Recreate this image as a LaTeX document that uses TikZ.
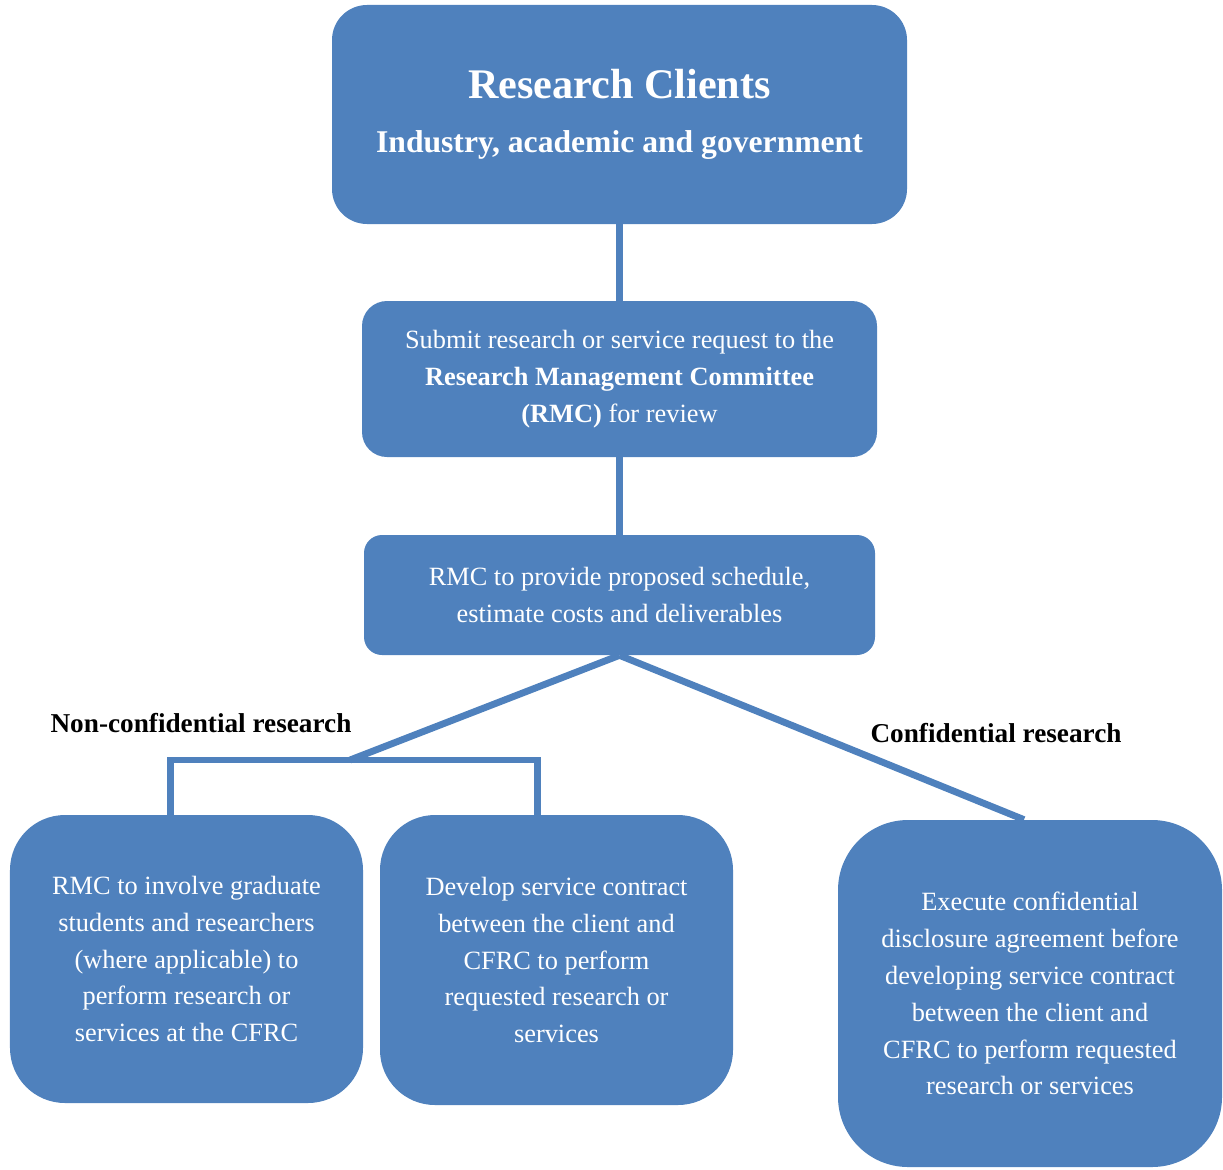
\documentclass[tikz,border=0pt]{standalone}
\usepackage{fontspec}
\setmainfont{Liberation Serif}
\definecolor{boxblue}{HTML}{4F81BD}
\pgfdeclarelayer{bg}
\pgfsetlayers{bg,main}

\begin{document}
\begin{tikzpicture}
        \tikzstyle{every node}=[align=center,font=\fontsize{15}{21}\selectfont]
        \tikzstyle{box}=[fill=boxblue,text=white,inner sep=0pt]
        \tikzstyle{link}=[draw=boxblue,line width=3.9pt]
        \useasboundingbox (0,0) rectangle (24.46,-23.38);

        % research clients
        \node[box,minimum width=11.5cm,minimum height=4.38cm,rounded corners=0.7cm] (clients) at (12.39,-2.29)
            {{\fontsize{24}{28}\selectfont\bfseries Research Clients}\\[9.5pt]
             {\fontsize{18}{22}\selectfont\bfseries Industry, academic and government}};

        % request to the committee
        \node[box,minimum width=10.3cm,minimum height=3.12cm,rounded corners=0.5cm] (request) at (12.39,-7.58)
            {Submit research or service request to the\\ \textbf{Research Management Committee}\\ \textbf{(RMC)} for review};
        \draw[link] (clients) -- (request);

        % schedule and costs
        \node[box,minimum width=10.22cm,minimum height=2.4cm,rounded corners=0.36cm] (schedule) at (12.39,-11.9)
            {RMC to provide proposed schedule,\\estimate costs and deliverables};

        % non-confidential research
        \node[font=\fontsize{15.5}{19}\selectfont\bfseries] (nonconflabel) at (4.02,-14.46) {Non-confidential research};
        \node[box,minimum width=7.06cm,minimum height=5.76cm,rounded corners=1.1cm] (involve) at (3.73,-19.18)
            {RMC to involve graduate\\students and researchers\\(where applicable) to\\perform research or\\services at the CFRC};
        \node[box,minimum width=7.06cm,minimum height=5.8cm,rounded corners=1.1cm] (contract) at (11.13,-19.2)
            {Develop service contract\\between the client and\\CFRC to perform\\requested research or\\services};
        \coordinate (split) at (7.0,-15.2);
        \coordinate (barleft) at (3.41,-15.2);
        \coordinate (barright) at (10.75,-15.2);

        % confidential research
        \node[font=\fontsize{15.5}{19}\selectfont\bfseries] (conflabel) at (19.92,-14.66) {Confidential research};
        \node[box,minimum width=7.68cm,minimum height=6.94cm,rounded corners=1.4cm] (disclosure) at (20.6,-19.87)
            {Execute confidential\\disclosure agreement before\\developing service contract\\between the client and\\CFRC to perform requested\\research or services};

        \begin{pgfonlayer}{bg}
            \draw[link] (request) -- (schedule);
            \draw[link] (schedule.south) -- (split);
            \draw[link] (barleft |- involve.north) -- (barleft) -- (barright) -- (barright |- contract.north);
            \draw[link] (schedule.south) -- ([xshift=-0.12cm]disclosure.north);
        \end{pgfonlayer}
\end{tikzpicture}
\end{document}
